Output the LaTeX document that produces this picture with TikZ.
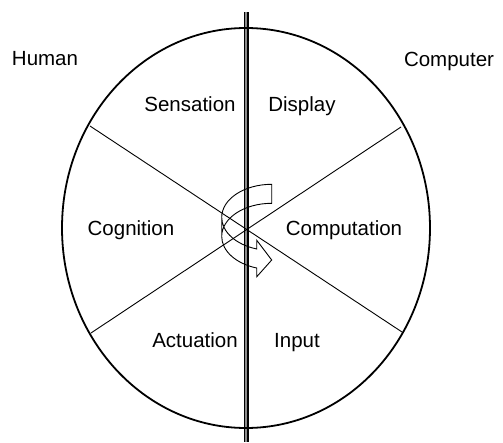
\documentclass[tikz,border=0pt]{standalone}
\usepackage{fontspec}
\setmainfont{Liberation Sans}

\begin{document}
\begin{tikzpicture}[
    x=1pt, y=-1pt,
    lbl/.style={font=\fontsize{20.5}{24}\selectfont, anchor=base, inner sep=0pt},
    rim/.style={line width=1.8pt},
    spoke/.style={line width=0.9pt},
    divider/.style={line width=1.3pt, double=black!45, double distance=2.4pt},
    turn/.style={line width=0.9pt, line join=miter},
]
\useasboundingbox (0,0) rectangle (503,442);

% Divider between human and computer
\coordinate (top) at (246,12);
\coordinate (bot) at (246,442);
\draw[divider] (top) -- (bot);

% Spokes
\coordinate (nw) at (90,126);
\coordinate (se) at (402,332);
\coordinate (ne) at (401,127);
\coordinate (sw) at (91,333);
\draw[spoke] (nw) -- (se);
\draw[spoke] (ne) -- (sw);

% Outer ellipse
\draw[rim] (246,228) ellipse[x radius=184, y radius=200];

% Side labels
\node[lbl] (human) at (45,65.5) {Human};
\node[lbl] (computer) at (449,66) {Computer};

% Sector labels
\node[lbl] (sensation) at (190,111.5) {Sensation};
\node[lbl] (display) at (302,111.5) {Display};
\node[lbl] (cognition) at (131,235) {Cognition};
\node[lbl] (computation) at (344,235) {Computation};
\node[lbl] (actuation) at (195,347) {Actuation};
\node[lbl] (input) at (297,347) {Input};

% Curved arrow in the middle
\draw[turn] (221.7,217.4)
    arc[start angle=180, end angle=107.46, x radius=50, y radius=33.1]
    -- (256.7,240.2) -- (271.7,260) -- (256.7,276.8) -- (256.7,268)
    arc[start angle=107.46, end angle=180, x radius=50, y radius=33.1]
    -- (221.7,217.4)
    arc[start angle=180, end angle=270, x radius=50, y radius=33.1]
    -- (271.7,203.3)
    arc[start angle=270, end angle=180, x radius=50, y radius=33.1];

\end{tikzpicture}
\end{document}
